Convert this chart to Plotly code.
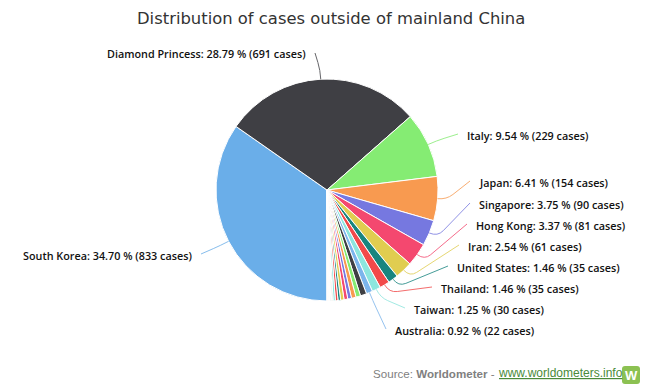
import math
import plotly.graph_objects as go

W, H = 658, 392
names = ["South Korea", "Diamond Princess", "Italy", "Japan", "Singapore", "Hong Kong", "Iran",
         "United States", "Thailand", "Taiwan", "Australia",
         "Malaysia", "Germany", "Vietnam", "United Kingdom", "UAE", "France", "Canada", "Macao",
         "Kuwait", "Bahrain", "Philippines", "India", "Russia", "Spain", "Israel", "Lebanon",
         "Nepal", "Egypt", "Cambodia", "Sri Lanka", "Belgium", "Finland", "Sweden"]
cases = [833, 691, 229, 154, 90, 81, 61, 35, 35, 30, 22,
         22, 16, 16, 13, 13, 12, 9, 9,
         8, 2, 3, 3, 2, 2, 1, 1, 1, 1, 1, 1, 1, 1, 1]
percent_labels = ["34.70", "28.79", "9.54", "6.41", "3.75", "3.37", "2.54", "1.46", "1.46", "1.25", "0.92"]
palette = ["#6aaee9", "#3f3f44", "#85ec73", "#f89a50", "#7678e0", "#f4486f", "#e0cd50", "#18857f",
           "#f24a4a", "#8de6de"]
colors = [palette[i % 10] for i in range(len(cases))]
colors[10] = "#7cb5ec"

CX, CY, R = 327, 190, 111
px = lambda v: v / W
py = lambda v: 1 - v / H

# visible text edge: (x, y, side)
label_pos = [(192, 255, "right"), (306, 54, "right"), (467, 135, "left"), (479, 182, "left"),
             (479, 204, "left"), (476, 225, "left"), (468, 246, "left"), (457, 267, "left"),
             (441, 288, "left"), (414, 309, "left"), (395, 330, "left")]

fig = go.Figure(go.Pie(
    labels=names, values=cases, sort=False, direction="clockwise", rotation=180,
    marker=dict(colors=colors, line=dict(color="#ffffff", width=1)),
    textinfo="none", hoverinfo="label+percent", showlegend=False,
    domain=dict(x=[px(CX - R), px(CX + R)], y=[py(CY + R), py(CY - R)]),
))

total = sum(cases)
annotations = []
shapes = []
cum = 0
for i, (name, val, pct, (lx, ly, side)) in enumerate(zip(names, cases, percent_labels, label_pos)):
    mid = math.radians(180 + (cum + val / 2) / total * 360)
    cum += val
    ux, uy = math.sin(mid), -math.cos(mid)
    ax, ay = CX + R * ux, CY + R * uy
    cx, cy = ax + 9 * ux, ay + 9 * uy
    ex = lx + (9 if side == "right" else -9)
    ey = ly - 1
    dx, dy = ex - cx, ey - cy
    d = math.hypot(dx, dy) or 1
    mx, my = cx + 8 * dx / d, cy + 8 * dy / d
    path = f"M {px(ax)} {py(ay)} Q {px(cx)} {py(cy)} {px(mx)} {py(my)} L {px(ex)} {py(ey)}"
    shapes.append(dict(type="path", xref="paper", yref="paper", path=path,
                       line=dict(color=colors[i], width=1), layer="above", opacity=0.8))
    annotations.append(dict(
        x=px(lx + (2 if side == "right" else -2)), y=py(ly), xref="paper", yref="paper",
        xanchor=side, yanchor="middle",
        text=f"{name}: {pct} % ({val} cases)", showarrow=False,
        font=dict(family="Open Sans", size=10.8, color="#111111", weight=600)))

annotations += [
    dict(x=px(331), y=py(18), xref="paper", yref="paper", xanchor="center", yanchor="middle",
         text="Distribution of cases outside of mainland China", showarrow=False,
         font=dict(family="DejaVu Sans", size=16.4, color="#333333")),
    dict(x=px(371), y=py(373), xref="paper", yref="paper", xanchor="left", yanchor="middle",
         text="Source: <b>Worldometer</b> -", showarrow=False,
         font=dict(family="Liberation Sans", size=11.6, color="#808080")),
    dict(x=px(496), y=py(373), xref="paper", yref="paper", xanchor="left", yanchor="middle",
         text="www.worldometers.info", showarrow=False,
         font=dict(family="Liberation Sans", size=12, color="#4a8a3a", lineposition="under")),
    dict(x=px(631), y=py(375), xref="paper", yref="paper", xanchor="center", yanchor="middle",
         text="<b>W</b>", showarrow=False,
         font=dict(family="Liberation Sans", size=13, color="#ffffff")),
]

# rounded logo badge
def rounded(x0, y0, x1, y1, r):
    return (f"M {px(x0 + r)} {py(y0)} L {px(x1 - r)} {py(y0)} Q {px(x1)} {py(y0)} {px(x1)} {py(y0 + r)} "
            f"L {px(x1)} {py(y1 - r)} Q {px(x1)} {py(y1)} {px(x1 - r)} {py(y1)} "
            f"L {px(x0 + r)} {py(y1)} Q {px(x0)} {py(y1)} {px(x0)} {py(y1 - r)} "
            f"L {px(x0)} {py(y0 + r)} Q {px(x0)} {py(y0)} {px(x0 + r)} {py(y0)} Z")

shapes.insert(0, dict(type="path", xref="paper", yref="paper", path=rounded(622, 366, 640, 384, 3),
                      fillcolor="#8cc152", line=dict(color="#8cc152", width=0), layer="below"))

fig.update_layout(width=W, height=H, margin=dict(l=0, r=0, t=0, b=0), paper_bgcolor="#ffffff",
                  plot_bgcolor="#ffffff", annotations=annotations, shapes=shapes)
fig.write_html("out.html", post_script="document.body.style.margin='0';",
               config=dict(displayModeBar=False))
